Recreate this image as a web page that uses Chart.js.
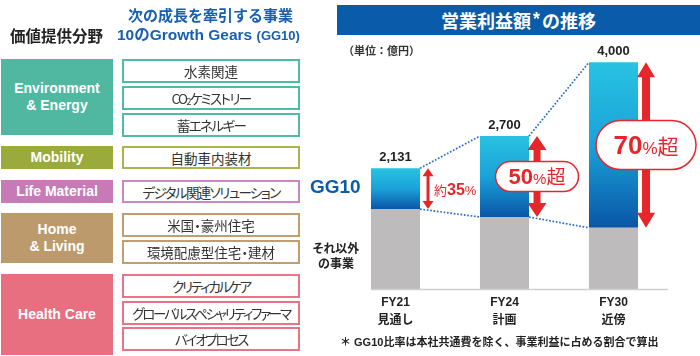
<!DOCTYPE html>
<html><head><meta charset="utf-8">
<script src="https://cdn.jsdelivr.net/npm/chart.js@4/dist/chart.umd.min.js"></script>
<style>
html,body{margin:0;padding:0;background:#fff;}
#wrap{position:relative;width:700px;height:356px;overflow:hidden;font-family:'Liberation Sans','Noto Sans CJK JP',sans-serif;}
canvas{position:absolute;left:0;top:0;}
.abs{position:absolute;white-space:nowrap;}
.cat{position:absolute;left:1px;width:112px;color:#fff;font-weight:bold;font-size:14px;line-height:17px;display:flex;align-items:center;justify-content:center;text-align:center;}
.item{position:absolute;left:122px;width:178px;height:24px;box-sizing:border-box;border:2px solid;background:#fff;color:#333;font-family:'Noto Sans CJK JP',sans-serif;font-size:13.5px;font-feature-settings:'palt';display:flex;align-items:center;justify-content:center;white-space:nowrap;}
.k{letter-spacing:-1.6px;}
.kk{letter-spacing:-2.2px;}
</style></head>
<body>
<div id="wrap">
<canvas id="c" width="700" height="356"></canvas>

<div class="abs" style="left:10px;top:25px;font-size:15.5px;font-weight:bold;color:#222;line-height:20px;font-family:'Noto Sans CJK JP';">価値提供分野</div>
<div class="abs" style="left:128px;top:5px;font-size:15px;font-weight:bold;color:#175fb2;line-height:20px;font-family:'Noto Sans CJK JP';">次の成長を牽引する事業</div>
<div class="abs" style="left:117px;top:25px;font-size:15.5px;font-weight:bold;color:#175fb2;line-height:20px;">10のGrowth Gears <span style="font-size:13px">(GG10)</span></div>

<div class="cat" style="top:59px;height:76px;background:#50b8a0;">Environment<br>&amp; Energy</div>
<div class="item k" style="top:59px;border-color:#4dbca2;letter-spacing:0;">水素関連</div>
<div class="item k" style="top:86px;border-color:#4dbca2;">CO<span style="font-size:9px;position:relative;top:3px;">2</span>ケミストリー</div>
<div class="item k" style="top:113px;border-color:#4dbca2;">蓄エネルギー</div>

<div class="cat" style="top:146px;height:23px;background:#9aab3c;">Mobility</div>
<div class="item" style="top:146px;height:23px;border-color:#a8b550;">自動車内装材</div>

<div class="cat" style="top:180px;height:23px;background:#c77ab5;">Life Material</div>
<div class="item k" style="top:180px;height:23px;border-color:#cf86c0;">デジタル関連ソリューション</div>

<div class="cat" style="top:213px;height:50px;background:#bd9a6c;">Home<br>&amp; Living</div>
<div class="item" style="top:213px;border-color:#c29d72;">米国・豪州住宅</div>
<div class="item" style="top:240px;border-color:#c29d72;">環境配慮型住宅・建材</div>

<div class="cat" style="top:274px;height:81px;background:#e86f80;">Health Care</div>
<div class="item kk" style="top:274px;border-color:#e87585;">クリティカルケア</div>
<div class="item kk" style="top:301px;border-color:#e87585;">グローバルスペシャリティファーマ</div>
<div class="item kk" style="top:327px;border-color:#e87585;">バイオプロセス</div>

<div class="abs" style="left:337px;top:5px;width:363px;height:30px;background:#0a5cab;color:#fff;font-weight:bold;font-size:18px;line-height:30px;text-align:center;font-family:'Noto Sans CJK JP';">営業利益額<span style="font-family:'Liberation Sans';position:relative;top:-3px;padding:0 2px;">*</span>の推移</div>
<div class="abs" style="left:343px;top:42px;font-size:11px;font-weight:bold;color:#333;line-height:16px;font-family:'Noto Sans CJK JP';">（単位：億円）</div>

<div class="abs" style="left:310px;top:176px;font-size:19px;font-weight:bold;color:#0a5cab;line-height:22px;">GG10</div>
<div class="abs" style="left:308px;top:240px;width:56px;text-align:center;font-size:12px;font-weight:bold;color:#222;line-height:15px;font-family:'Noto Sans CJK JP';font-feature-settings:'palt';">それ以外<br>の事業</div>

<div class="abs" style="left:340px;top:334px;font-size:11px;font-weight:bold;color:#222;line-height:16px;font-family:'Liberation Sans','Noto Sans CJK JP';">＊ GG10比率は本社共通費を除く、事業利益に占める割合で算出</div>
</div>

<script>
// ---- data ----
const categories = [["FY21","見通し"],["FY24","計画"],["FY30","近傍"]];
const otherValues = [1410, 1270, 1080];   // それ以外の事業
const gg10Values  = [721, 1430, 2920];    // GG10
const shareLabels = ["約35%", "50%超", "70%超"];
const yMax = 4500;

// ---- style ----
const RED = '#e5262b';
const LATIN = "'Liberation Sans','Noto Sans CJK JP',sans-serif";
const JP = "'Noto Sans CJK JP',sans-serif";
const arrowSpec = [
  {shaft:3, headW:11, headL:8},
  {shaft:7, headW:19, headL:14},
  {shaft:8, headW:18, headL:15}
];
const labelSpec = [
  {pill:null, sizes:[13,16,13,13]},
  {pill:{w:83,h:30}, sizes:[13,22,15,19]},
  {pill:{w:100,h:49}, sizes:[13,26,17,21]}
];

function arrow(ctx, x, y1, y2, s){
  const hw = s.headW/2, sw = s.shaft/2;
  ctx.beginPath();
  ctx.moveTo(x, y1);
  ctx.lineTo(x+hw, y1+s.headL);
  ctx.lineTo(x+sw, y1+s.headL);
  ctx.lineTo(x+sw, y2-s.headL);
  ctx.lineTo(x+hw, y2-s.headL);
  ctx.lineTo(x, y2);
  ctx.lineTo(x-hw, y2-s.headL);
  ctx.lineTo(x-sw, y2-s.headL);
  ctx.lineTo(x-sw, y1+s.headL);
  ctx.lineTo(x-hw, y1+s.headL);
  ctx.closePath();
  ctx.fill();
}
function roundRect(ctx,x,y,w,h,r){
  ctx.beginPath();
  ctx.moveTo(x+r,y); ctx.lineTo(x+w-r,y); ctx.arc(x+w-r,y+r,r,-Math.PI/2,0);
  ctx.lineTo(x+w,y+h-r); ctx.arc(x+w-r,y+h-r,r,0,Math.PI/2);
  ctx.lineTo(x+r,y+h); ctx.arc(x+r,y+h-r,r,Math.PI/2,Math.PI);
  ctx.lineTo(x,y+r); ctx.arc(x+r,y+r,r,Math.PI,Math.PI*1.5);
  ctx.closePath();
}
function drawParts(ctx, text, sizes, x, baseline, align){
  const m = text.match(/^(\D*)(\d+)(%)(\D*)$/);
  const parts = [
    {t:m[1], f:`normal ${sizes[0]}px ${JP}`},
    {t:m[2], f:`bold ${sizes[1]}px ${LATIN}`},
    {t:m[3], f:`normal ${sizes[2]}px ${LATIN}`},
    {t:m[4], f:`normal ${sizes[3]}px ${JP}`}
  ].filter(p=>p.t);
  let total = 0;
  parts.forEach(p=>{ctx.font=p.f; p.w=ctx.measureText(p.t).width; total+=p.w;});
  let cx = align==='left' ? x : x-total/2;
  ctx.textBaseline='alphabetic'; ctx.textAlign='left';
  parts.forEach(p=>{ctx.font=p.f; ctx.fillText(p.t,cx,baseline); cx+=p.w;});
}

const annot = {
  id:'annot',
  afterDraw(chart){
    const ctx = chart.ctx, ca = chart.chartArea;
    const m0 = chart.getDatasetMeta(0).data, m1 = chart.getDatasetMeta(1).data;
    ctx.save();
    // baseline
    ctx.strokeStyle='#cfcfcf'; ctx.lineWidth=1.5;
    ctx.beginPath(); ctx.moveTo(m0[0].x-m0[0].width/2, ca.bottom+0.5); ctx.lineTo(ca.right, ca.bottom+0.5); ctx.stroke();
    // dotted connectors
    ctx.strokeStyle='#2a6ec2'; ctx.lineWidth=1.7; ctx.setLineDash([1.7,1.7]);
    for (let i=0;i<m1.length-1;i++){
      for (const m of [m1,m0]){
        const a=m[i], b=m[i+1];
        ctx.beginPath(); ctx.moveTo(a.x+a.width/2, a.y); ctx.lineTo(b.x-b.width/2, b.y); ctx.stroke();
      }
    }
    ctx.setLineDash([]);
    // totals
    ctx.fillStyle='#222'; ctx.font=`bold 13px ${LATIN}`; ctx.textAlign='center'; ctx.textBaseline='middle';
    m1.forEach((el,i)=>{
      const tot = otherValues[i]+gg10Values[i];
      ctx.fillText(tot.toLocaleString('en-US'), el.x, el.y-11);
    });
    // arrows and share labels
    m1.forEach((el,i)=>{
      const ax = el.x + el.width/2 + 8;
      const y1 = el.y, y2 = el.base;
      ctx.fillStyle = RED;
      arrow(ctx, ax, y1, y2, arrowSpec[i]);
      const spec = labelSpec[i];
      const cy = (y1+y2)/2;
      if (spec.pill){
        const {w,h} = spec.pill;
        roundRect(ctx, ax-w/2, cy-h/2, w, h, h/2);
        ctx.fillStyle='#fff'; ctx.fill();
        ctx.strokeStyle=RED; ctx.lineWidth=1.5; ctx.stroke();
        ctx.fillStyle=RED;
        drawParts(ctx, shareLabels[i], spec.sizes, ax, cy+spec.sizes[1]*0.36, 'center');
      } else {
        ctx.fillStyle=RED;
        drawParts(ctx, shareLabels[i], spec.sizes, ax+6, cy+6, 'left');
      }
    });
    ctx.restore();
  }
};

function gg10Fill(c){
  const chart=c.chart;
  if(!chart.chartArea || c.dataIndex===undefined) return '#1aa0d8';
  const y = chart.scales.y, i=c.dataIndex;
  const top = y.getPixelForValue(otherValues[i]+gg10Values[i]);
  const bot = y.getPixelForValue(otherValues[i]);
  const g = chart.ctx.createLinearGradient(0,top,0,bot);
  g.addColorStop(0,'#29c2e2');
  g.addColorStop(0.5,'#1aa2d8');
  g.addColorStop(1,'#0a55a6');
  return g;
}

new Chart(document.getElementById('c'), {
  type:'bar',
  data:{
    labels: categories,
    datasets:[
      {label:'それ以外の事業', data: otherValues, backgroundColor:'#bdbbbc', borderWidth:0, stack:'s'},
      {label:'GG10', data: gg10Values, backgroundColor: gg10Fill, borderWidth:0, stack:'s'}
    ]
  },
  options:{
    responsive:false, animation:false, devicePixelRatio:1,
    layout:{padding:{left:341, right:32, top:34, bottom:0}},
    datasets:{bar:{categoryPercentage:1, barPercentage:0.45}},
    plugins:{legend:{display:false}, tooltip:{enabled:false}},
    scales:{
      x:{stacked:true, grid:{display:false, drawTicks:false}, border:{display:false},
         ticks:{color:'#222', padding:5, font:{family:LATIN, size:12, weight:'bold', lineHeight:1.5}},
         afterFit(s){ s.height = 67; }},
      y:{stacked:true, display:false, min:0, max:yMax}
    }
  },
  plugins:[annot]
});
</script>
</body></html>
